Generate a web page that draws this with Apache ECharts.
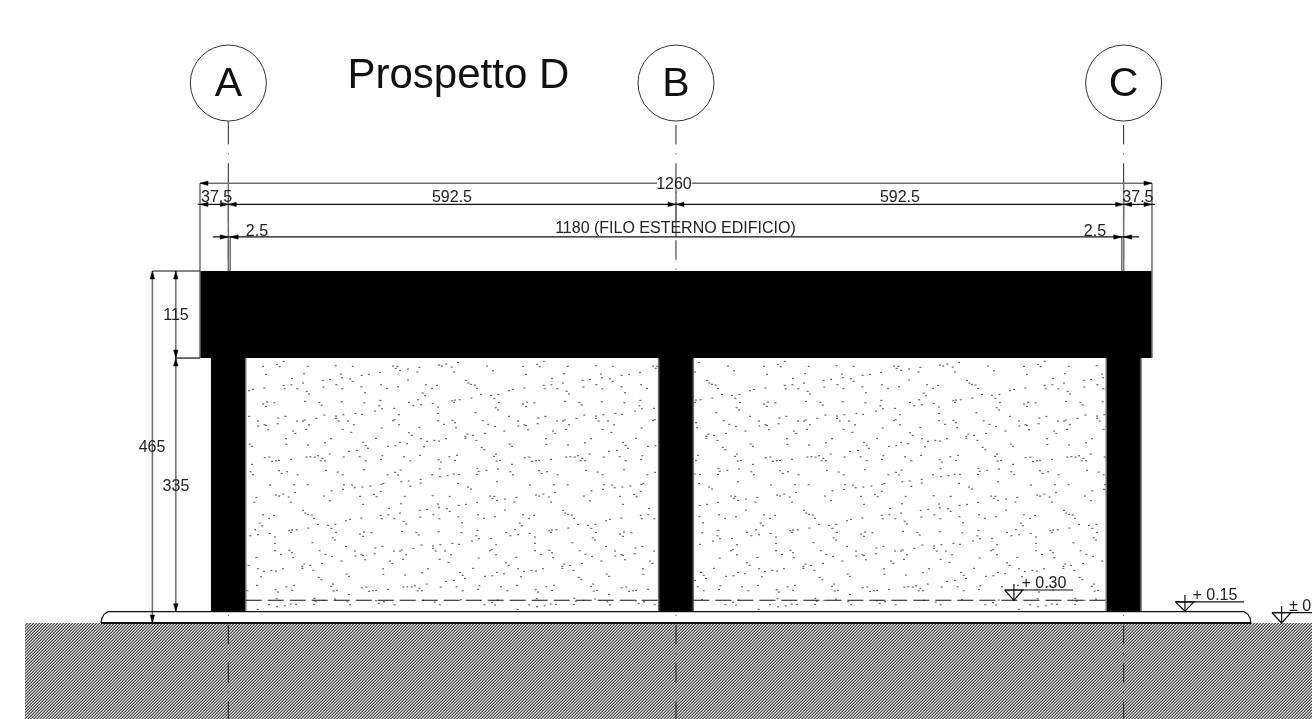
<!DOCTYPE html>
<html><head><meta charset="utf-8">
<style>html,body{margin:0;padding:0;background:#fff;overflow:hidden}#c{width:1312px;height:719px}</style>
<script src="https://cdn.jsdelivr.net/npm/echarts@6/dist/echarts.min.js"></script>
</head><body><div id="c"></div>
<script>
// All drawing data in centimetres: x from the outer left edge of the beam, y above ground level.
const X_RANGE = [-264.7, 1471.8];
const Y_RANGE = [-126.8, 823];

const GRID_AXES = [[37.5, 658, -126.8], [630, 658, -126.8], [1222.5, 658, -126.8]];
const BUBBLES = [[37.5, 713.3, 'A'], [630, 713.3, 'B'], [1222.5, 713.3, 'C']];
const BEAM = [[0, 1260, 350, 465]];
const COLUMNS = [[14.5, 60.5, 15, 350], [607, 653, 15, 350], [1199.5, 1245.5, 15, 350]];
const GROUND = [[-231.6, 1471.8, -126.8, 0]];
const PANELS = [[60.5, 607, 15, 350], [653, 1199.5, 15, 350]];

const GRAY_LINES = [
  [[0, 581], [0, 350]], [[1260, 581], [1260, 350]],
  [[37.5, 663], [37.5, 658]],
  [[37.5, 581], [37.5, 465]], [[40, 510], [40, 465]],
  [[1222.5, 581], [1222.5, 465]], [[1220, 510], [1220, 465]],
  [[630, 581], [630, 510]],
  [[0, 581], [605, 581]], [[651, 581], [1260, 581]],
  [[-63, 465], [-63, 0]], [[-32, 465], [-32, 15]],
  [[60.5, 15], [60.5, 350]], [[607, 15], [607, 350]],
  [[653, 15], [653, 350]], [[1199.5, 15], [1199.5, 350]], [[1245.5, 15], [1245.5, 350]]
];
const BLACK_LINES = [
  [[-3, 553], [1264, 553]],
  [[17, 510], [1243, 510]],
  [[-63, 465], [0, 465]],
  [[-32, 350], [0, 350]],
  [[-131, 0], [-130, 6], [-127, 11.5], [-122, 15], [1382, 15], [1387, 11.5], [1390, 6], [1391, 0]],
  [[1065, 43.6], [1077.3, 30], [1089, 43.6], [1065, 43.6]],
  [[1065, 43.6], [1155.5, 43.6]], [[1077.3, 51.5], [1077.3, 30]],
  [[1291, 28], [1303.6, 15.8], [1315.5, 28], [1291, 28]],
  [[1291, 28], [1381.7, 28]], [[1303.6, 37], [1303.6, 15.8]],
  [[1418.8, 13.6], [1431.6, 0], [1443.9, 13.6], [1418.8, 13.6]],
  [[1418.8, 13.6], [1471.8, 13.6]], [[1431.6, 22.5], [1431.6, 0]]
];
const GROUND_LINE = [[[-131, 0], [1391, 0]]];
const DASHED_LEVEL = [[[60.5, 30], [607, 30]], [[653, 30], [1199.5, 30]]];

const TIPS_LEFT = [[0, 581], [0, 553], [37.5, 553], [630, 553], [1222.5, 553], [40, 510], [1222.5, 510]];
const TIPS_RIGHT = [[1260, 581], [1260, 553], [37.5, 553], [630, 553], [1222.5, 553], [37.5, 510], [1220, 510]];
const TIPS_UP = [[-63, 465], [-32, 465], [-32, 350]];
const TIPS_DOWN = [[-63, 0], [-32, 350], [-32, 15]];

const TITLE = [[342, 724, 'Prospetto D']];
const DIM_LABELS = [
  [22, 562.7, '37.5'], [333.5, 562.7, '592.5'], [926.4, 562.7, '592.5'], [1241.4, 562.7, '37.5'],
  [627.3, 580, '1260'], [629.3, 523, '1180 (FILO ESTERNO EDIFICIO)'],
  [75.4, 519, '2.5'], [1184.5, 519, '2.5'],
  [-31.8, 406.9, '115'], [-63.5, 232.5, '465'], [-31.8, 181.5, '335'],
  [1117, 52.8, '+ 0.30'], [1343.3, 37, '+ 0.15'], [1470.8, 22.5, '± 0.00']
];

// Stipple read from the concrete texture, in 1/3 px units, one 260x130 px sample.
const STIPPLE_SAMPLE = [
[43,16],[85,10],[93,17],[177,16],[261,14],[312,16],[105,1],[52,40],[166,38],[277,39],[339,43],[361,40],
[130,52],[222,58],[244,55],[280,50],[304,53],[312,61],[163,66],[105,73],[128,71],[263,71],[338,77],
[13,85],[1,89],[47,81],[108,83],[146,83],[224,78],[281,83],[174,91],[181,99],[349,95],
[169,121],[212,124],[219,132],[279,122],[347,125],[55,123],[77,125],[43,129],[52,136],
[379,150],[320,157],[340,160],[1,166],[110,166],[227,162],[262,165],[284,161],[262,172],[203,172],
[89,171],[168,177],[163,180],[145,180],[28,180],[270,180],[298,180],[87,188],[47,191],[52,193],[29,195],[181,191],[316,191],
[58,206],[172,205],[282,205],[133,210],[140,217],[308,214],[112,233],[247,233],[382,232],
[229,245],[343,244],[113,250],[178,252],[3,249],[10,256],[351,253],[358,262],[325,268],[301,271],[243,279],
[48,290],[62,288],[173,288],[185,287],[198,288],[208,284],[285,288],[333,287],[221,292],
[127,295],[70,301],[82,299],[91,298],[216,299],[229,299],[351,299],[10,310],
[232,328],[91,329],[115,332],[5,332],[267,333],[346,326],[99,337],[13,341],[147,341],[282,341],
[64,372],[136,371],[177,371],[286,371],[310,372],[365,375],[318,380],[341,378],[283,385],[248,389],
[433,15],[446,16],[478,24],[512,19],[571,12],[580,15],[593,9],[609,18],[628,4],[715,15],
[441,22],[454,28],[506,33],[616,33],[733,29],[394,34],[478,57],[652,58],[659,66],[667,70],[678,72],
[397,71],[532,71],[565,73],[448,77],[415,82],[550,82],[685,82],[522,96],[529,104],[697,100],[727,103],[749,100],
[508,116],[395,118],[611,119],[619,117],[633,116],[668,111],[737,112],[481,124],[616,124],[552,127],[517,131],[494,134],[392,134],[751,124],
[568,138],[400,143],[436,142],[741,140],[748,147],[568,157],[451,161],[680,155],[568,179],[438,176],[433,179],[611,178],[619,185],[702,179],
[451,191],[586,190],[719,190],[739,196],[512,199],[622,200],[399,201],[767,210],[481,215],[489,223],[656,219],[673,223],[709,217],[650,226],[650,232],
[517,233],[592,233],[557,238],[535,241],[571,240],[683,238],[454,244],[475,248],[418,256],[440,254],[526,257],[699,259],[707,266],
[742,279],[401,284],[466,287],[514,283],[602,287],[625,283],[736,286],[397,295],[485,299],[570,296],[619,298],[754,298],[744,300],[577,303],
[573,323],[456,327],[686,322],[690,331],[713,328],[748,324],[439,334],[416,341],[448,342],[550,341],[574,347],[597,344],[615,339],[631,340],[685,340],
[516,355],[480,360],[458,362],[404,367],[398,370],[516,366],[628,367],[745,362],[485,376],[658,378],[667,384]
];
const SAMPLE_SIZE_X = 780, SAMPLE_SIZE_Y = 390;      // sample extent, 1/3 px units
const ROW_SHIFTS = [0, 291, 530];                    // per-row horizontal shift, 1/3 px units

const SX = 1312 / (X_RANGE[1] - X_RANGE[0]);
const SY = 719 / (Y_RANGE[1] - Y_RANGE[0]);
function stipplePoints() {
  const out = [];
  PANELS.forEach(function (p, pi) {
    const wCm = SAMPLE_SIZE_X / 3 / SX, hCm = SAMPLE_SIZE_Y / 3 / SY;
    ROW_SHIFTS.forEach(function (shift, r) {
      for (let c = -1; c < 3; c++) {
        STIPPLE_SAMPLE.forEach(function (d) {
          const x = p[0] + 3 / SX + (d[0] + shift + pi * 160) / 3 / SX + c * wCm;
          const y = p[3] - 3 / SY - d[1] / 3 / SY - r * hCm;
          if (x > p[0] + 1 && x < p[1] - 1 && y > p[2] + 1 && y < p[3]) out.push([x, y]);
        });
      }
    });
  });
  return out;
}

function hatchTile() {
  const cv = document.createElement('canvas'); cv.width = 3; cv.height = 3;
  const g = cv.getContext('2d');
  const shades = ['#dcdcdc', '#989898', '#4e4e4e'];
  for (let y = 0; y < 3; y++) for (let x = 0; x < 3; x++) {
    g.fillStyle = shades[(x + y) % 3]; g.fillRect(x, y, 1, 1);
  }
  return cv;
}

function rects(name, data, fill, z) {
  return { name, type: 'custom', coordinateSystem: 'cartesian2d', z, silent: true, clip: false, data,
    encode: { x: [0, 1], y: [2, 3] },
    renderItem: function (params, api) {
      const a = api.coord([api.value(0), api.value(3)]), b = api.coord([api.value(1), api.value(2)]);
      return { type: 'rect', shape: { x: a[0], y: a[1], width: b[0] - a[0], height: b[1] - a[1] }, style: { fill: fill } };
    } };
}
function polys(name, data, style, z) {
  return { name, type: 'lines', coordinateSystem: 'cartesian2d', polyline: true, z, silent: true, animation: false,
    lineStyle: Object.assign({ opacity: 1, curveness: 0 }, style),
    data: data.map(function (c) { return { coords: c }; }) };
}
function arrows(name, data, dx, dy) {
  return { name, type: 'custom', coordinateSystem: 'cartesian2d', z: 6, silent: true, clip: false, data,
    renderItem: function (params, api) {
      const p = api.coord([api.value(0), api.value(1)]);
      const L = 8, W = 2.2;
      const base = [p[0] - dx * L, p[1] - dy * L];
      return { type: 'polygon', shape: { points: [p, [base[0] - dy * W, base[1] - dx * W], [base[0] + dy * W, base[1] + dx * W]] }, style: { fill: '#000', stroke: '#000', lineWidth: 0.5 } };
    } };
}
function texts(name, data, font, color, z) {
  return { name, type: 'custom', coordinateSystem: 'cartesian2d', z, silent: true, clip: false, data,
    renderItem: function (params, api) {
      const p = api.coord([api.value(0), api.value(1)]);
      return { type: 'text', x: p[0], y: p[1] + 1, style: { text: data[params.dataIndex][2], font: font, fill: color, align: 'center', verticalAlign: 'middle' } };
    } };
}

const chart = echarts.init(document.getElementById('c'), null, { renderer: 'canvas', devicePixelRatio: 1 });
chart.setOption({
  animation: false,
  backgroundColor: '#fff',
  grid: { left: 0, right: 0, top: 0, bottom: 0, containLabel: false },
  xAxis: { type: 'value', min: X_RANGE[0], max: X_RANGE[1], show: false },
  yAxis: { type: 'value', min: Y_RANGE[0], max: Y_RANGE[1], show: false },
  series: [
    rects('Terreno', GROUND, { image: hatchTile(), repeat: 'repeat' }, 1),
    polys('Assi', GRID_AXES.map(function (a) { return [[a[0], a[1]], [a[0], a[2]]]; }),
      { color: '#222', width: 1, type: [19.5, 9, 1, 8.95] }, 2),
    rects('Pilastri', COLUMNS, '#000', 3),
    rects('Trave', BEAM, '#000', 3),
    { name: 'Tamponamento', type: 'scatter', z: 3, silent: true, symbol: 'rect', symbolSize: [2, 1.2],
      itemStyle: { color: '#666', opacity: 1 }, data: stipplePoints(), large: false },
    polys('Linee grigie', GRAY_LINES, { color: '#6e6e6e', width: 1.5 }, 4),
    polys('Linee nere', BLACK_LINES, { color: '#111', width: 1.2 }, 5),
    polys('Terra', GROUND_LINE, { color: '#111', width: 1.8 }, 5),
    polys('Quota tratteggiata', DASHED_LEVEL, { color: '#111', width: 1.1, type: [16, 6] }, 5),
    arrows('Frecce sx', TIPS_LEFT, -1, 0),
    arrows('Frecce dx', TIPS_RIGHT, 1, 0),
    arrows('Frecce su', TIPS_UP, 0, -1),
    arrows('Frecce giu', TIPS_DOWN, 0, 1),
    { name: 'Fili', type: 'scatter', z: 7, silent: true, symbol: 'circle', symbolSize: 76,
      itemStyle: { color: '#fff', borderColor: '#333', borderWidth: 1, opacity: 1 },
      label: { show: true, position: 'inside', offset: [0, 2], formatter: function (p) { return p.data[2]; },
        fontFamily: 'Liberation Sans', fontSize: 41, color: '#111' },
      data: BUBBLES },
    texts('Titolo', TITLE, '42px "Liberation Sans"', '#111', 8),
    texts('Quote', DIM_LABELS, '16px "Liberation Sans"', '#222', 8)
  ]
});
</script></body></html>
